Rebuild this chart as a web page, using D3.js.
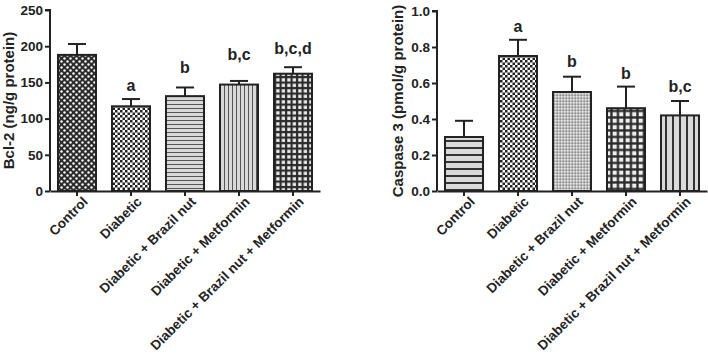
<!DOCTYPE html>
<html><head><meta charset="utf-8">
<script src="https://cdn.jsdelivr.net/npm/d3@7/dist/d3.min.js"></script>
<style>
body{margin:0;background:#fff;}
svg text{font-family:"Liberation Sans",Arial,sans-serif;font-weight:bold;fill:#222;}
</style></head>
<body><svg id="c" width="708" height="357"></svg>
<script>
const categories = ["Control","Diabetic","Diabetic + Brazil nut","Diabetic + Metformin","Diabetic + Brazil nut + Metformin"];
const bcl2Means = [188, 117, 131, 147, 162];
const bcl2Errors = [15, 10, 12, 5, 9];
const bcl2Letters = ["", "a", "b", "b,c", "b,c,d"];
const bcl2LetterPos = [0, 138, 163, 181, 189];
const bcl2Ticks = [0, 50, 100, 150, 200, 250];
const casCategories = ["Control","Diabetic","Diabetic + Brazil nut","Diabetic + Metformin","Diabetic + Brazil nut + Metformin"];
const casMeans = [0.30, 0.75, 0.55, 0.46, 0.42];
const casErrors = [0.09, 0.09, 0.085, 0.12, 0.08];
const casLetters = ["", "a", "b", "b", "b,c"];
const casLetterPos = [0, 0.883, 0.69, 0.622, 0.55];
const casTicks = [0, 0.2, 0.4, 0.6, 0.8, 1.0];

const svg = d3.select("#c");
const defs = svg.append("defs");
const dark = "#2b2b2b";

function pat(id, w, h, bg, draw){
  const p = defs.append("pattern").attr("id", id).attr("patternUnits","userSpaceOnUse").attr("width", w).attr("height", h);
  p.append("rect").attr("width", w).attr("height", h).attr("fill", bg);
  draw(p);
}
pat("pDots", 6, 6, dark, p => {
  p.append("circle").attr("cx",1.5).attr("cy",1.5).attr("r",1.2).attr("fill","#fff");
  p.append("circle").attr("cx",4.5).attr("cy",4.5).attr("r",1.2).attr("fill","#fff");
});
pat("pCheck", 5, 5, "#fff", p => {
  p.append("rect").attr("x",0).attr("y",0).attr("width",2.5).attr("height",2.5).attr("fill","#222");
  p.append("rect").attr("x",2.5).attr("y",2.5).attr("width",2.5).attr("height",2.5).attr("fill","#222");
});
pat("pHFine", 4, 4, "#d9d9d9", p => {
  p.append("rect").attr("x",0).attr("y",0).attr("width",4).attr("height",1).attr("fill","#555");
});
pat("pVFine", 4, 4, "#d9d9d9", p => {
  p.append("rect").attr("x",0).attr("y",0).attr("width",1).attr("height",4).attr("fill","#555");
});
pat("pGridS", 5.5, 5.5, dark, p => {
  p.append("rect").attr("x",1.2).attr("y",1.2).attr("width",3.3).attr("height",3.3).attr("fill","#eee");
});
pat("pHWide", 7, 7, "#d9d9d9", p => {
  p.append("rect").attr("x",0).attr("y",0).attr("width",7).attr("height",2).attr("fill","#333");
});
pat("pVWide", 7, 7, "#d9d9d9", p => {
  p.append("rect").attr("x",0).attr("y",0).attr("width",2).attr("height",7).attr("fill","#333");
});
pat("pFine", 3, 3, "#bdbdbd", p => {
  p.append("rect").attr("x",0).attr("y",0).attr("width",1.5).attr("height",1.5).attr("fill","#e6e6e6");
  p.append("rect").attr("x",1.5).attr("y",1.5).attr("width",1.5).attr("height",1.5).attr("fill","#8f8f8f");
});
pat("pGridL", 6.5, 6.5, dark, p => {
  p.append("rect").attr("x",1.6).attr("y",1.6).attr("width",4.2).attr("height",4.2).attr("fill","#eee");
});

function drawChart(opt){
  const g = svg.append("g");
  const x = d3.scaleBand().domain(opt.cats).range([opt.x0, opt.x1]).paddingInner(0.296).paddingOuter(0.148);
  const y = d3.scaleLinear().domain([0, opt.ymax]).range([opt.yBottom, opt.yTop]);
  g.selectAll("rect.bar").data(opt.means).join("rect")
    .attr("x",(d,i)=>x(opt.cats[i])).attr("width",x.bandwidth())
    .attr("y",d=>y(d)).attr("height",d=>y(0)-y(d))
    .attr("fill",(d,i)=>"url(#"+opt.patterns[i]+")")
    .attr("stroke","#222").attr("stroke-width",2);
  const eb = g.selectAll("g.eb").data(opt.means).join("g");
  eb.append("line").attr("x1",(d,i)=>x(opt.cats[i])+x.bandwidth()/2).attr("x2",(d,i)=>x(opt.cats[i])+x.bandwidth()/2)
    .attr("y1",d=>y(d)).attr("y2",(d,i)=>y(d+opt.errs[i])).attr("stroke","#222").attr("stroke-width",2);
  eb.append("line").attr("x1",(d,i)=>x(opt.cats[i])+x.bandwidth()/2-9).attr("x2",(d,i)=>x(opt.cats[i])+x.bandwidth()/2+9)
    .attr("y1",(d,i)=>y(d+opt.errs[i])).attr("y2",(d,i)=>y(d+opt.errs[i])).attr("stroke","#222").attr("stroke-width",2);
  g.selectAll("text.let").data(opt.letters).join("text")
    .attr("x",(d,i)=>x(opt.cats[i])+x.bandwidth()/2).attr("y",(d,i)=>y(opt.letterPos[i]))
    .attr("text-anchor","middle").style("font-size","16px").text(d=>d);
  const ya = g.append("g").attr("transform",`translate(${opt.x0},0)`)
    .call(d3.axisLeft(y).tickValues(opt.ticks).tickFormat(opt.fmt).tickSize(5).tickPadding(2));
  ya.selectAll("path,line").attr("stroke","#222").attr("stroke-width",2);
  ya.select("path").attr("d",`M-5,${opt.yTop}H0V${opt.yBottom}`);
  ya.selectAll("text").style("font-size","13.5px").style("font-family","Liberation Sans, Arial").style("font-weight","bold").attr("fill","#222");
  const xa = g.append("g").attr("transform",`translate(0,${opt.yBottom})`)
    .call(d3.axisBottom(x).tickSize(5).tickSizeOuter(0));
  xa.selectAll("path,line").attr("stroke","#222").attr("stroke-width",2);
  xa.selectAll("text").style("font-size","13.5px").style("font-family","Liberation Sans, Arial").style("font-weight","bold").attr("fill","#222")
    .attr("text-anchor","end").attr("dy","0.35em")
    .attr("transform","translate(4,4) rotate(-45)").attr("x",0).attr("y",6);
  g.append("text").attr("transform",`translate(${opt.titleX},${(opt.yTop+opt.yBottom)/2}) rotate(-90)`)
    .attr("text-anchor","middle").attr("dy","0.35em").style("font-size","15px").text(opt.title);
}

drawChart({cats:categories, means:bcl2Means, errs:bcl2Errors, letters:bcl2Letters, letterPos:bcl2LetterPos,
  ticks:bcl2Ticks, ymax:250, fmt:d3.format("d"), x0:50, x1:320, yTop:10, yBottom:191, titleX:9,
  title:"Bcl-2 (ng/g protein)", patterns:["pDots","pCheck","pHFine","pVFine","pGridS"]});
drawChart({cats:casCategories, means:casMeans, errs:casErrors, letters:casLetters, letterPos:casLetterPos,
  ticks:casTicks, ymax:1.0, fmt:d3.format(".1f"), x0:437, x1:707, yTop:11, yBottom:191, titleX:398,
  title:"Caspase 3 (pmol/g protein)", patterns:["pHWide","pCheck","pFine","pGridL","pVWide"]});
</script></body></html>
